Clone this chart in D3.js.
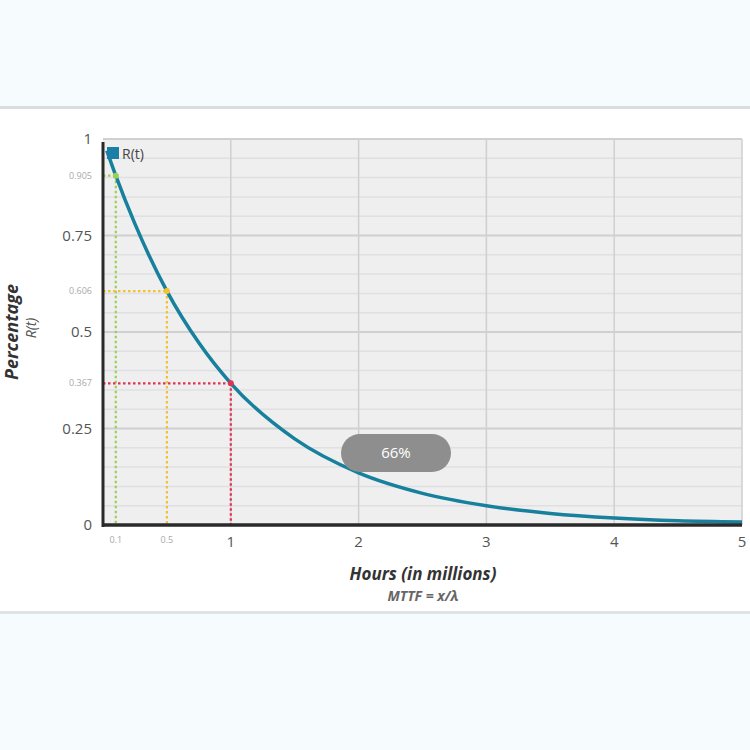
<!DOCTYPE html>
<html>
<head>
<meta charset="utf-8">
<script src="https://cdn.jsdelivr.net/npm/d3@7"></script>
<style>
  html, body { margin: 0; padding: 0; background: #f6fbfd; }
  svg { display: block; font-family: "Open Sans", sans-serif; }
</style>
</head>
<body>
<svg id="chart" width="750" height="750"></svg>
<script>
// ---- data ----
const hours = [0.03, 0.1, 0.25, 0.5, 0.75, 1, 1.5, 2, 2.5, 3, 3.5, 4, 4.5, 5];
const reliability = [0.97, 0.905, 0.78, 0.606, 0.472, 0.367, 0.223, 0.135, 0.082, 0.05, 0.03, 0.018, 0.011, 0.008];
const markerHours = [0.1, 0.5, 1];
const markerValues = [0.905, 0.606, 0.367];
const markerColors = ["#9ccf55", "#f2c230", "#e0334f"];
const yMajorTicks = [0, 0.25, 0.5, 0.75, 1];
const yMajorLabels = ["0", "0.25", "0.5", "0.75", "1"];
const xMajorTicks = [1, 2, 3, 4, 5];
const xMinorLabels = ["0.1", "0.5"];
const yMinorLabels = ["0.905", "0.606", "0.367"];
const seriesName = "R(t)";
const badgeText = "66%";

(function () {
const svg = d3.select("#chart");

// page card
svg.append("rect").attr("x", 0).attr("y", 0).attr("width", 750).attr("height", 750).attr("fill", "#f6fbfd");
svg.append("rect").attr("x", 0).attr("y", 106).attr("width", 750).attr("height", 3).attr("fill", "#d9dde0");
svg.append("rect").attr("x", 0).attr("y", 611).attr("width", 750).attr("height", 3).attr("fill", "#dfe3e6");
svg.append("rect").attr("x", 0).attr("y", 109).attr("width", 750).attr("height", 502).attr("fill", "#ffffff");

const pL = 103, pR = 742, pT = 139, pB = 525;
const x = d3.scaleLinear().domain([0, 5]).range([pL, pR]);
const y = d3.scaleLinear().domain([0, 1]).range([pB, pT]);

// plot background
svg.append("rect").attr("x", pL).attr("y", pT).attr("width", pR - pL).attr("height", pB - pT).attr("fill", "#efeff0");

// minor horizontal grid
const minor = d3.range(0.05, 1.0001, 0.05).filter(v => Math.abs((v * 4) - Math.round(v * 4)) > 1e-6);
svg.append("g").selectAll("line").data(minor).join("line")
  .attr("x1", pL).attr("x2", pR).attr("y1", d => y(d)).attr("y2", d => y(d))
  .attr("stroke", "#e0e0e2").attr("stroke-width", 1.5);
// major horizontal grid
svg.append("g").selectAll("line").data(yMajorTicks.filter(d => d > 0)).join("line")
  .attr("x1", pL).attr("x2", pR).attr("y1", d => y(d)).attr("y2", d => y(d))
  .attr("stroke", "#d0d0d2").attr("stroke-width", 2);
// vertical grid
svg.append("g").selectAll("line").data(xMajorTicks).join("line")
  .attr("x1", d => x(d)).attr("x2", d => x(d)).attr("y1", pT).attr("y2", pB)
  .attr("stroke", "#cfcfd1").attr("stroke-width", 1.5);

// dotted guide lines
markerHours.forEach((h, i) => {
  const g = svg.append("g").attr("stroke", markerColors[i]).attr("stroke-width", 2.2)
    .attr("stroke-dasharray", "2.5,2.5").attr("fill", "none");
  g.append("line").attr("x1", x(h)).attr("x2", x(h)).attr("y1", y(markerValues[i])).attr("y2", pB);
  g.append("line").attr("x1", pL).attr("x2", x(h)).attr("y1", y(markerValues[i])).attr("y2", y(markerValues[i]));
});

// curve
const line = d3.line().x((d, i) => x(hours[i])).y(d => y(d)).curve(d3.curveMonotoneX);
svg.append("path").datum(reliability).attr("d", line)
  .attr("fill", "none").attr("stroke", "#17809d").attr("stroke-width", 3.5);

// marker dots
svg.append("g").selectAll("circle").data(markerHours).join("circle")
  .attr("cx", d => x(d)).attr("cy", (d, i) => y(markerValues[i])).attr("r", 3)
  .attr("fill", (d, i) => markerColors[i]);

// axes lines
svg.append("line").attr("x1", pL).attr("x2", pL).attr("y1", 142).attr("y2", pB + 2)
  .attr("stroke", "#2a2a2a").attr("stroke-width", 3);
svg.append("line").attr("x1", pL - 1).attr("x2", pR).attr("y1", pB).attr("y2", pB)
  .attr("stroke", "#2a2a2a").attr("stroke-width", 3.5);

// y tick labels
svg.append("g").selectAll("text").data(yMajorTicks).join("text")
  .attr("x", 92).attr("y", d => y(d)).attr("dy", "0.35em").attr("text-anchor", "end")
  .attr("font-size", 15).attr("fill", "#555").text((d, i) => yMajorLabels[i]);
svg.append("g").selectAll("text").data(markerValues).join("text")
  .attr("x", 92).attr("y", d => y(d)).attr("dy", "0.35em").attr("text-anchor", "end")
  .attr("font-size", 9).attr("fill", "#a9a9a9").text((d, i) => yMinorLabels[i]);

// x tick labels
svg.append("g").selectAll("text").data(xMajorTicks).join("text")
  .attr("x", d => x(d)).attr("y", 547).attr("text-anchor", "middle")
  .attr("font-size", 15).attr("fill", "#555").text(d => d);
svg.append("g").selectAll("text").data(markerHours.slice(0, 2)).join("text")
  .attr("x", d => x(d)).attr("y", 543).attr("text-anchor", "middle")
  .attr("font-size", 9).attr("fill", "#a9a9a9").text((d, i) => xMinorLabels[i]);

// legend
svg.append("rect").attr("x", 107).attr("y", 147).attr("width", 12).attr("height", 12).attr("fill", "#1a7fa6");
svg.append("text").attr("x", 122).attr("y", 158.5).attr("font-size", 14).attr("fill", "#444").text(seriesName);

// axis titles
svg.append("text").attr("transform", "translate(18,332) rotate(-90)").attr("text-anchor", "middle")
  .attr("font-size", 18).attr("font-weight", "bold").attr("font-style", "italic").attr("fill", "#333")
  .text("Percentage");
svg.append("text").attr("transform", "translate(36,328) rotate(-90)").attr("text-anchor", "middle")
  .attr("font-size", 14).attr("font-style", "italic").attr("fill", "#555")
  .text("R(t)");
svg.append("text").attr("x", 423).attr("y", 580).attr("text-anchor", "middle")
  .attr("font-size", 17).attr("font-weight", "bold").attr("font-style", "italic").attr("fill", "#333")
  .text("Hours (in millions)");
svg.append("text").attr("x", 423).attr("y", 601).attr("text-anchor", "middle")
  .attr("font-size", 14).attr("font-weight", "bold").attr("font-style", "italic").attr("fill", "#666")
  .text("MTTF = x/λ");

// overlay badge
svg.append("rect").attr("x", 341).attr("y", 434).attr("width", 110).attr("height", 38).attr("rx", 19)
  .attr("fill", "#8e8e8e");
svg.append("text").attr("x", 396).attr("y", 453).attr("dy", "0.35em").attr("text-anchor", "middle")
  .attr("font-size", 15).attr("fill", "#ffffff").text(badgeText);
})();
</script>
</body>
</html>
